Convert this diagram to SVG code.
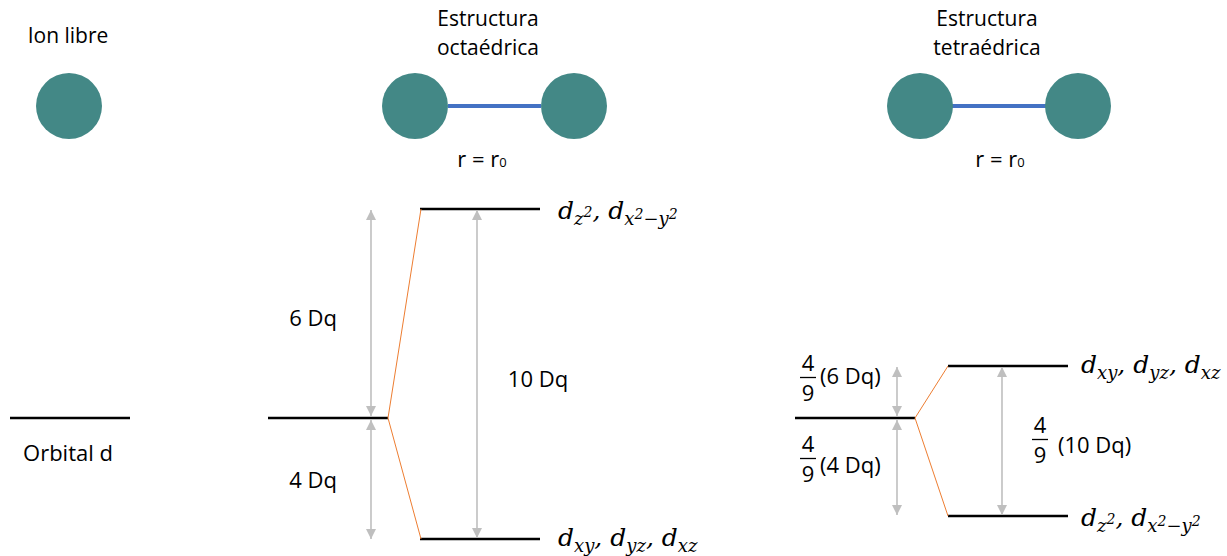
<svg xmlns="http://www.w3.org/2000/svg" width="1227" height="556" viewBox="0 0 1227 556">
<style>
.t{font-family:"Open Sans","Liberation Sans",sans-serif;font-size:22px;fill:#000}
.h{font-family:"Open Sans","Liberation Sans",sans-serif;font-size:21px;fill:#000}
.m{font-family:"DejaVu Serif","Liberation Serif",serif;font-style:italic;font-size:25px;fill:#000}
.lvl{stroke:#000;stroke-width:2.5}
.or{stroke:#ED7D31;stroke-width:1;fill:none}
.ar{stroke:#BFBFBF;stroke-width:1.6;fill:none;marker-start:url(#ah);marker-end:url(#ah)}
.atom{fill:#438886}
.bond{stroke:#4472C4;stroke-width:4}
</style>
<defs>
<marker id="ah" viewBox="0 0 10 10" refX="10" refY="5" markerWidth="10" markerHeight="10" markerUnits="userSpaceOnUse" orient="auto-start-reverse">
<path d="M0,0 L10,5 L0,10 z" fill="#BFBFBF"/>
</marker>
</defs>
<rect width="1227" height="556" fill="#fff"/>

<g id="ion-libre">
<text class="h" x="68" y="43" text-anchor="middle">Ion libre</text>
<circle class="atom" cx="69" cy="106" r="33"/>
<line class="lvl" x1="10" y1="418" x2="130" y2="418"/>
<text class="t" x="68" y="461" text-anchor="middle">Orbital d</text>
</g>

<g id="octaedrica">
<text class="h" x="488" y="26" text-anchor="middle">Estructura</text>
<text class="h" x="488" y="55" text-anchor="middle">octaédrica</text>
<line class="bond" x1="448" y1="106" x2="541" y2="106"/>
<circle class="atom" cx="415" cy="106" r="33"/>
<circle class="atom" cx="574" cy="106" r="33"/>
<text class="t" x="482" y="167" text-anchor="middle" font-size="20">r = r<tspan font-size="13">0</tspan></text>
</g>

<g id="tetraedrica">
<text class="h" x="987" y="26" text-anchor="middle">Estructura</text>
<text class="h" x="987" y="55" text-anchor="middle">tetraédrica</text>
<line class="bond" x1="952" y1="106" x2="1046" y2="106"/>
<circle class="atom" cx="920" cy="106" r="33"/>
<circle class="atom" cx="1078" cy="106" r="33"/>
<text class="t" x="1000" y="167" text-anchor="middle" font-size="20">r = r<tspan font-size="13">0</tspan></text>
</g>

<g id="oct-levels">
<line class="lvl" x1="268" y1="418" x2="388" y2="418"/>
<line class="lvl" x1="420" y1="209" x2="540" y2="209"/>
<line class="lvl" x1="420" y1="539" x2="540" y2="539"/>
<text class="m" x="558" y="219">d<tspan font-size="18" dy="6">z</tspan><tspan font-size="14" dy="-8">2</tspan><tspan dy="2">, d</tspan><tspan font-size="18" dy="6">x</tspan><tspan font-size="14" dy="-6">2</tspan><tspan font-size="18" dy="6">−y</tspan><tspan font-size="14" dy="-6">2</tspan></text>
<text class="m" x="558" y="546">d<tspan font-size="18" dy="6">xy</tspan><tspan dy="-6">, d</tspan><tspan font-size="18" dy="6">yz</tspan><tspan dy="-6">, d</tspan><tspan font-size="18" dy="6">xz</tspan></text>
<text class="t" x="313" y="326" text-anchor="middle">6 Dq</text>
<text class="t" x="313" y="488" text-anchor="middle">4 Dq</text>
<text class="t" x="538" y="387" text-anchor="middle">10 Dq</text>
</g>

<g id="tet-levels">
<line class="lvl" x1="795" y1="418" x2="915" y2="418"/>
<line class="lvl" x1="948" y1="366" x2="1068" y2="366"/>
<line class="lvl" x1="948" y1="516" x2="1068" y2="516"/>
<text class="m" x="1081" y="373">d<tspan font-size="18" dy="6">xy</tspan><tspan dy="-6">, d</tspan><tspan font-size="18" dy="6">yz</tspan><tspan dy="-6">, d</tspan><tspan font-size="18" dy="6">xz</tspan></text>
<text class="m" x="1081" y="526">d<tspan font-size="18" dy="6">z</tspan><tspan font-size="14" dy="-8">2</tspan><tspan dy="2">, d</tspan><tspan font-size="18" dy="6">x</tspan><tspan font-size="14" dy="-6">2</tspan><tspan font-size="18" dy="6">−y</tspan><tspan font-size="14" dy="-6">2</tspan></text>
<g id="frac-6">
<text class="t" x="808" y="371" text-anchor="middle">4</text>
<line x1="800" y1="377.5" x2="816" y2="377.5" stroke="#000" stroke-width="1.3"/>
<text class="t" x="808" y="401" text-anchor="middle">9</text>
<text class="t" x="820" y="384">(6 Dq)</text>
</g>
<g id="frac-4">
<text class="t" x="808" y="452" text-anchor="middle">4</text>
<line x1="800" y1="458.5" x2="816" y2="458.5" stroke="#000" stroke-width="1.3"/>
<text class="t" x="808" y="482" text-anchor="middle">9</text>
<text class="t" x="820" y="473">(4 Dq)</text>
</g>
<g id="frac-10">
<text class="t" x="1040" y="433" text-anchor="middle">4</text>
<line x1="1032" y1="439.5" x2="1048" y2="439.5" stroke="#000" stroke-width="1.3"/>
<text class="t" x="1040" y="463" text-anchor="middle">9</text>
<text class="t" x="1058" y="453">(10 Dq)</text>
</g>
</g>

<g id="connectors">
<polyline class="or" points="421,209 388,418 421,539"/>
<polyline class="or" points="948,366 915,418 948,516"/>
<line class="ar" x1="371" y1="210" x2="371" y2="416"/>
<line class="ar" x1="371" y1="420" x2="371" y2="539"/>
<line class="ar" x1="477" y1="210" x2="477" y2="538"/>
<line class="ar" x1="897" y1="367" x2="897" y2="416"/>
<line class="ar" x1="897" y1="420" x2="897" y2="515"/>
<line class="ar" x1="1002" y1="367" x2="1002" y2="515"/>
</g>
</svg>
